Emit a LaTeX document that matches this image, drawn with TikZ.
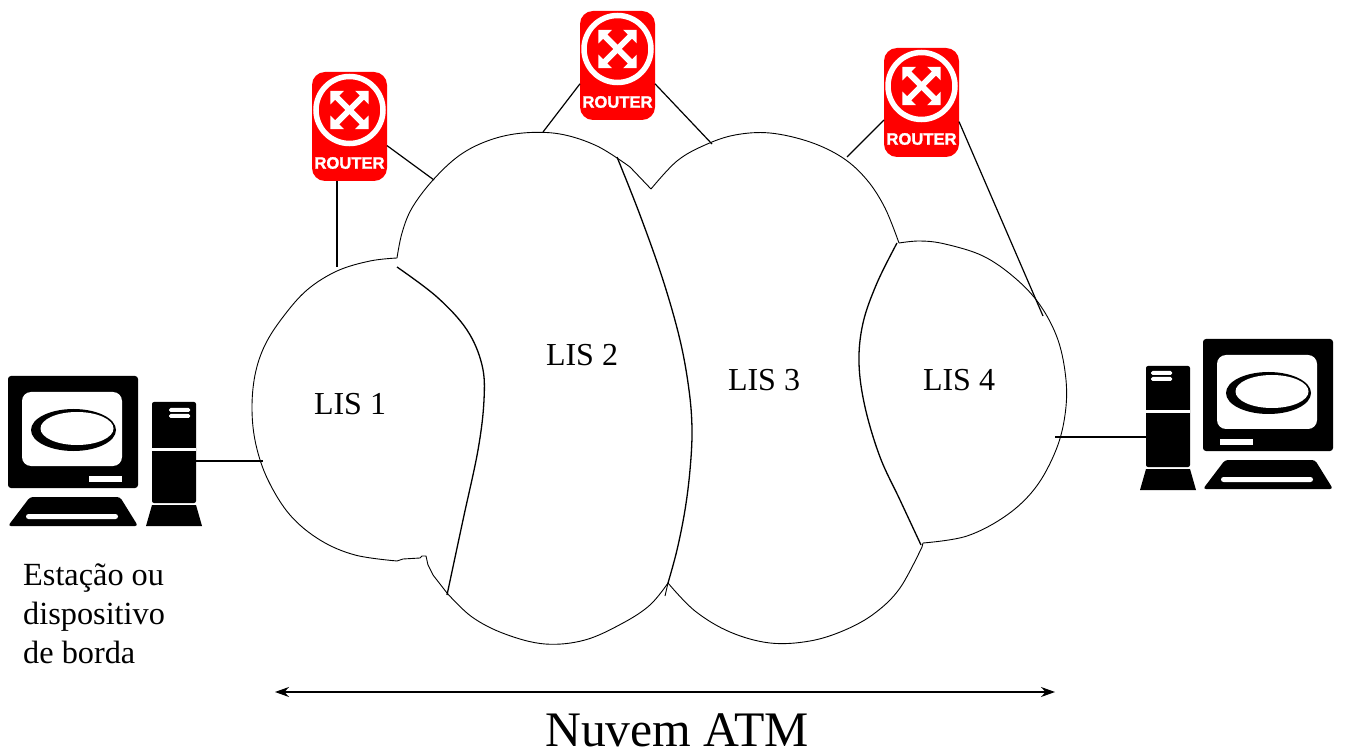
\documentclass[tikz,border=0pt]{standalone}
\usepackage{fontspec}
\setmainfont{Liberation Serif}
\newfontfamily\rfont[BoldFeatures={FakeBold=1.5}]{Liberation Sans}
\usetikzlibrary{arrows.meta}
\definecolor{routerred}{RGB}{255,0,0}
\tikzset{
  x=1pt,y=-1pt,
  routerbox/.style={rectangle,rounded corners=13pt,fill=routerred,minimum width=75pt,minimum height=109pt,inner sep=0pt,outer sep=0pt},
  towerbox/.style={rectangle,fill=black,rounded corners=2pt,minimum width=44pt,minimum height=101pt,inner sep=0pt,outer sep=0pt},
  cloudline/.style={line width=0.9pt,black},
  divider/.style={line width=1.3pt,black},
  link/.style={line width=1.2pt,black},
  lis/.style={font=\fontsize{32}{36}\selectfont,inner sep=0pt},
  router/.pic={
    \draw[white,line width=5.5pt] (0,0) circle[radius=33.5];
    \foreach \a in {45,-45}{
      \begin{scope}[rotate=\a]
        \fill[white] (-27,0)--(-17.5,-9.5)--(-17.5,-3)--(17.5,-3)--(17.5,-9.5)--(27,0)--(17.5,9.5)--(17.5,3)--(-17.5,3)--(-17.5,9.5)--cycle;
      \end{scope}
    }
  },
  monitor/.pic={
    \fill[black,rounded corners=3pt] (0,0) rectangle (130,112);
    \fill[white,rounded corners=9pt] (14,16) rectangle (114,90);
    \fill[black] (65.5,54) ellipse[x radius=42.5,y radius=21];
    \fill[white] (69,52.5) ellipse[x radius=36.5,y radius=16.5];
    \fill[black,rounded corners=3pt] (22,121) -- (112,121) -- (130,150) -- (0,150) -- cycle;
    \fill[white,rounded corners=2.5pt] (18,138) rectangle (110,143);
  },
  towerbase/.pic={
    \fill[black] (0,0) -- (44,0) -- (50,21) -- (-6,21) -- cycle;
  }
}
\begin{document}
\begin{tikzpicture}
\useasboundingbox (0,0) rectangle (1345,751);
% cloud outline
\draw[cloudline,smooth,tension=0.6] plot coordinates {(397,258)(370,261)(337,271)(307,290)(283,317)(265,345)(255,375)(252,410)(256,445)(268,480)(290,515)(320,540)(355,555)(397,561)};
\draw[cloudline] (397,561) -- (403,559) -- (420,558) -- (422,556) -- (426,556) -- (428,565) -- (433,575) -- (447,593);
\draw[cloudline,smooth,tension=0.6] plot coordinates {(447,593)(472,617)(505,634)(545,644)(585,640)(623,623)(650,605)(668,583)};
\draw[cloudline,smooth,tension=0.6] plot coordinates {(668,583)(695,611)(730,632)(770,643)(810,641)(845,630)(875,613)(900,588)(922,547)};
\draw[cloudline] (922,547) -- (923,543);
\draw[cloudline,smooth,tension=0.6] plot coordinates {(923,543)(967,536)(1007,515)(1036,487)(1056,450)(1065,415)(1066,380)(1058,340)(1040,305)(1015,278)(983,256)(945,244)(920,241)(899,243)};
\draw[cloudline,smooth,tension=0.6] plot coordinates {(899,243)(885,208)(867,180)(843,158)(810,142)(770,133)(735,135)(705,145)(677,161)(651,189)};
\draw[cloudline] (651,189) -- (630,167);
\draw[cloudline,smooth,tension=0.6] plot coordinates {(630,167)(597,146)(560,134)(523,133)(490,140)(460,155)(433,180)(412,208)(402,233)(397,258)};
% dividers
\draw[divider,smooth,tension=0.6] plot coordinates {(397,267)(437,297)(467,330)(482,365)(484,400)(478,450)(463,520)(447,595)};
\draw[divider,smooth,tension=0.6] plot coordinates {(617,157)(640,215)(663,280)(680,340)(689,390)(692,430)(690,470)(685,510)(677,550)(668,583)};
\draw[line width=0.9pt] (668,583) -- (665,596);
\draw[divider,smooth,tension=0.6] plot coordinates {(897,243)(877,283)(863,323)(859,363)(865,407)(880,457)(900,500)(921,545)};
% anchors on the cloud
\coordinate (c1a) at (337,267);
\coordinate (c1b) at (434,180);
\coordinate (c2a) at (543,132);
\coordinate (c2b) at (712,144);
\coordinate (c3a) at (847,157);
\coordinate (c3b) at (1043,316);
\coordinate (cl) at (263,461);
\coordinate (cr) at (1055,437);
\coordinate (al) at (275,692);
\coordinate (ar) at (1055,692);
% routers
\node[routerbox] (r1) at (349.5,126.5) {};
\node[routerbox] (r2) at (617.5,65.5) {};
\node[routerbox] (r3) at (921.5,102.5) {};
\pic at ([yshift=16.5pt]r1.center) {router};
\pic at ([yshift=16.5pt]r2.center) {router};
\pic at ([yshift=16.5pt]r3.center) {router};
\foreach \r in {r1,r2,r3}
  \node[white,inner sep=0pt,font=\rfont\bfseries\fontsize{16.6}{18}\selectfont] at ([yshift=-36.5pt]\r.center) {ROUTER};
% connectors from routers
\draw[link] (c1a |- r1.south) -- (c1a);
\draw[link] (r1.-27.5) -- (c1b);
\draw[link] (r2.206.3) -- (c2a);
\draw[link] (r2.-26.9) -- (c2b);
\draw[link] (r3.205) -- (c3a);
\draw[link] (r3.-27.5) -- (c3b);
% left computer
\pic at (8,376) {monitor};
\fill[white] (89,476) rectangle (122,482);
\node[towerbox] (tl) at (174,452.5) {};
\fill[white] (152,448) rectangle (196,451);
\fill[white,rounded corners=1.5pt] (169,408) rectangle (190,412);
\fill[white,rounded corners=1.5pt] (169,414) rectangle (190,418);
\pic at (152,505) {towerbase};
\draw[link] (tl.east |- cl) -- (cl);
% right computer
\pic at (1203,339) {monitor};
\fill[white] (1220,439) rectangle (1253,445);
\node[towerbox] (tr) at (1168,416.5) {};
\fill[white] (1146,410) rectangle (1190,413);
\fill[white,rounded corners=1.5pt] (1151,371) rectangle (1172,375);
\fill[white,rounded corners=1.5pt] (1151,377) rectangle (1172,381);
\pic at (1146,469) {towerbase};
\draw[link] (tr.west |- cr) -- (cr);
% labels
\node[lis] (l1) at (350,404) {LIS 1};
\node[lis] (l2) at (582,355) {LIS 2};
\node[lis] (l3) at (764,380) {LIS 3};
\node[lis] (l4) at (959,380) {LIS 4};
\node[anchor=west,align=left,inner sep=0pt,font=\fontsize{32.3}{39}\selectfont] (st) at (23,614) {Estação ou\\dispositivo\\de borda};
\draw[line width=1.2pt,{Stealth[length=14pt,width=10pt]}-{Stealth[length=14pt,width=10pt]}] (al) -- (ar);
\node[inner sep=0pt,font=\fontsize{49.7}{52}\selectfont,anchor=base] (atm) at (677,746.5) {Nuvem ATM};
\end{tikzpicture}
\end{document}
